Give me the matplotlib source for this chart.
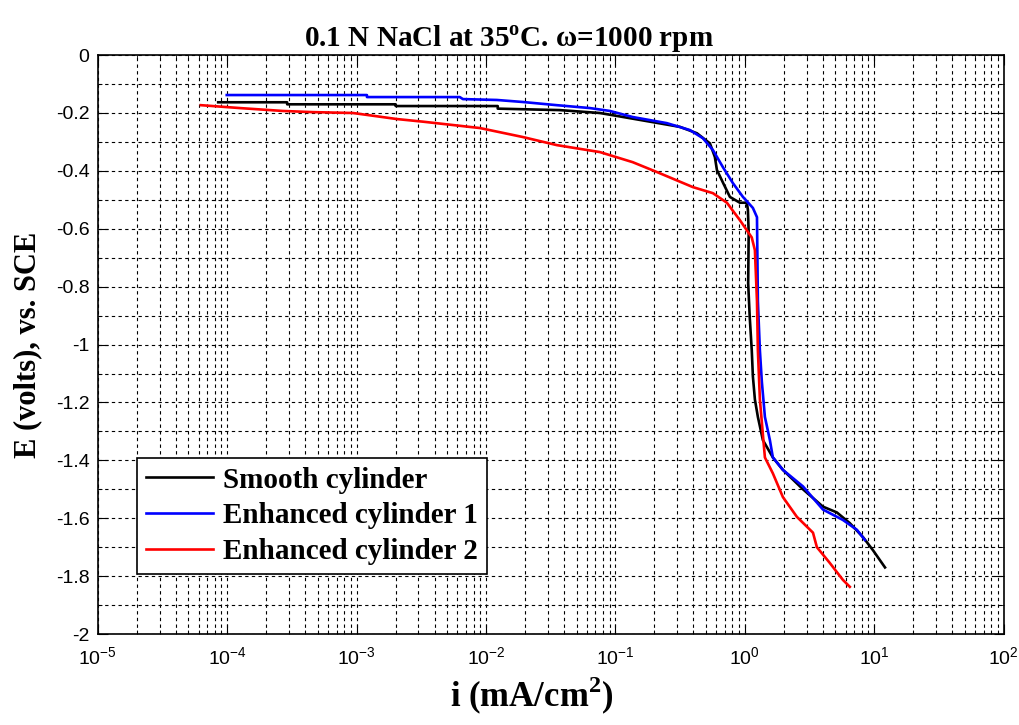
import numpy as np
from matplotlib import pyplot as plt
from matplotlib.ticker import FixedLocator, LogLocator, NullFormatter

plt.rcParams['mathtext.fontset'] = 'custom'
plt.rcParams['mathtext.rm'] = 'Liberation Sans'
plt.rcParams['mathtext.bf'] = 'Liberation Serif:bold'

# current density (mA/cm^2) and potential (V vs SCE)
smooth_i = [8.5e-5, 2.9e-4, 2.9e-4, 2.0e-3, 2.0e-3, 0.0123, 0.0123, 0.037, 0.0757, 0.185,
            0.315, 0.426, 0.537, 0.586, 0.608, 0.676, 0.766, 0.914, 1.036, 1.055, 1.07,
            1.06, 1.09, 1.13, 1.153, 1.195, 1.26, 1.377, 1.645, 1.967, 2.81, 4.01, 5.14,
            6.47, 8.17, 9.75, 12.1]
smooth_E = [-0.163, -0.163, -0.17, -0.17, -0.176, -0.176, -0.185, -0.19, -0.2, -0.23,
            -0.248, -0.27, -0.305, -0.352, -0.397, -0.44, -0.49, -0.51, -0.51, -0.535, -0.615,
            -0.788, -0.905, -1.02, -1.11, -1.19, -1.25, -1.33, -1.39, -1.433, -1.50, -1.56, -1.58,
            -1.617, -1.665, -1.71, -1.77]

enh1_i = [9.9e-5, 1.2e-3, 1.2e-3, 6.26e-3, 6.62e-3, 0.0121, 0.0192, 0.0352, 0.0634, 0.0906,
          0.136, 0.249, 0.376, 0.473, 0.566, 0.676, 0.807, 0.966, 1.153, 1.24, 1.26, 1.306,
          1.353, 1.428, 1.56, 1.645, 1.967, 2.81, 4.01, 5.72, 7.34, 8.46]
enh1_E = [-0.138, -0.138, -0.145, -0.145, -0.152, -0.155, -0.162, -0.173, -0.183, -0.193,
          -0.214, -0.235, -0.259, -0.287, -0.328, -0.387, -0.442, -0.49, -0.528, -0.56, -0.85,
          -1.02, -1.13, -1.25, -1.33, -1.39, -1.433, -1.49, -1.57, -1.606, -1.64, -1.675]

enh2_i = [6.25e-5, 1.25e-4, 2.69e-4, 4.58e-4, 9.35e-4, 2.05e-3, 3.25e-3, 8.95e-3, 0.0192,
          0.0352, 0.0757, 0.136, 0.209, 0.396, 0.566, 0.726, 0.914, 1.13, 1.195, 1.24, 1.26,
          1.306, 1.377, 1.428, 1.645, 1.967, 2.52, 3.36, 3.60, 4.54, 5.72, 6.47]
enh2_E = [-0.173, -0.183, -0.193, -0.197, -0.2, -0.221, -0.23, -0.252, -0.283,
          -0.311, -0.335, -0.37, -0.404, -0.456, -0.477, -0.51, -0.57, -0.63, -0.674, -0.85, -1.02,
          -1.19, -1.31, -1.39, -1.445, -1.527, -1.595, -1.65, -1.70, -1.755, -1.813, -1.837]

labels = ['Smooth cylinder', 'Enhanced cylinder 1', 'Enhanced cylinder 2']

fig = plt.figure(figsize=(10.2, 7.25), dpi=100)
ax = fig.add_axes([0.096, 0.1255, 0.888, 0.7985])

ax.semilogx(smooth_i, smooth_E, color='black', lw=1.9, label=labels[0])
ax.semilogx(enh1_i, enh1_E, color='blue', lw=1.9, label=labels[1])
ax.semilogx(enh2_i, enh2_E, color='red', lw=1.9, label=labels[2])

ax.set_xlim(1e-5, 1e2)
ax.set_ylim(-2, 0)

ax.xaxis.set_major_locator(LogLocator(base=10, numticks=10))
ax.xaxis.set_minor_locator(LogLocator(base=10, subs=np.arange(2, 10), numticks=20))
ax.xaxis.set_minor_formatter(NullFormatter())
yt = np.round(np.arange(-2, 0.01, 0.2), 1)
ax.yaxis.set_major_locator(FixedLocator(yt))
ax.yaxis.set_minor_locator(FixedLocator(np.round(np.arange(-1.9, 0, 0.2), 1)))
ax.set_yticklabels(['%g' % v if v != 0 else '0' for v in yt])

ax.tick_params(which='both', direction='in', top=True, right=True, labelsize=14)
ax.tick_params(which='major', length=7)
ax.tick_params(which='minor', length=3)
ax.tick_params(axis='x', pad=9)
ax.tick_params(axis='y', pad=6)
for lab in ax.get_xticklabels() + ax.get_yticklabels():
    lab.set_fontfamily('Liberation Sans')

grid_style = dict(color='black', lw=0.8, linestyle=(0, (3, 3)))
ax.grid(True, which='major', **grid_style)
ax.grid(True, which='minor', **grid_style)

for sp in ax.spines.values():
    sp.set_linewidth(1.2)

serif = dict(family='Liberation Serif', weight='bold')
ax.set_title(r'0.1 N NaCl at 35$^{\mathbf{o}}$C. ω=1000 rpm', fontsize=21, pad=5,
             x=0.454, **serif)
ax.set_xlabel(r'i (mA/cm$^{\mathbf{2}}$)', fontsize=25, labelpad=6, **serif)
ax.xaxis.set_label_coords(0.479, -0.07)
ax.set_ylabel('E (volts), vs. SCE', fontsize=22, labelpad=10, **serif)

leg = ax.legend(loc='lower left', bbox_to_anchor=(0.043, 0.104), borderaxespad=0,
                prop=dict(family='Liberation Serif', weight='bold', size=21),
                handlelength=2.3, handletextpad=0.35, fancybox=False, framealpha=1,
                edgecolor='black', labelspacing=0.3, borderpad=0.3)
leg.get_frame().set_linewidth(1.2)

fig.savefig('out.png', dpi=100)
